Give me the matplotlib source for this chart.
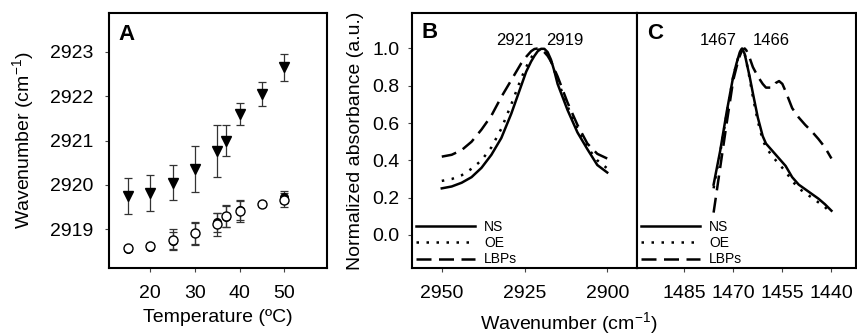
import matplotlib
matplotlib.use("Agg")
import matplotlib.pyplot as plt

plt.rcParams['font.family'] = ['Liberation Sans', 'DejaVu Sans']
plt.rcParams['mathtext.default'] = 'regular'

# Panel A: CH2 stretching position vs temperature
temp = [15, 20, 25, 30, 35, 37, 40, 45, 50]
lbp_a = [2919.74, 2919.81, 2920.05, 2920.36, 2920.77, 2921.00, 2921.60, 2922.05, 2922.65]
lbp_err = [0.41, 0.40, 0.40, 0.52, 0.59, 0.35, 0.24, 0.28, 0.30]
ns_a = [2918.55, 2918.60, 2918.74, 2918.90, 2919.15, 2919.28, 2919.42, 2919.57, 2919.72]
ns_err = [0.05, 0.05, 0.20, 0.24, 0.22, 0.24, 0.22, 0.05, 0.14]
oe_a = [2918.57, 2918.62, 2918.76, 2918.91, 2919.11, 2919.30, 2919.41, 2919.57, 2919.66]
oe_err = [0.05, 0.05, 0.23, 0.26, 0.26, 0.25, 0.24, 0.05, 0.16]

# Panel B: CH2 stretching band
wn_b = [2950, 2947, 2944, 2941, 2938, 2935, 2932, 2929, 2926, 2924.5, 2923, 2922,
        2921, 2920, 2919, 2918, 2917, 2916, 2915, 2912, 2909, 2906, 2903, 2900]
ns_b = [0.25, 0.26, 0.28, 0.31, 0.36, 0.43, 0.52, 0.65, 0.80, 0.875, 0.93, 0.96,
        0.985, 0.998, 0.998, 0.98, 0.94, 0.88, 0.81, 0.67, 0.55, 0.46, 0.375, 0.335]
oe_b = [0.29, 0.30, 0.32, 0.355, 0.40, 0.47, 0.57, 0.70, 0.84, 0.90, 0.95, 0.975,
        0.99, 1.0, 0.99, 0.97, 0.93, 0.88, 0.83, 0.69, 0.57, 0.47, 0.40, 0.357]
lbp_b = [0.42, 0.43, 0.455, 0.50, 0.565, 0.64, 0.74, 0.83, 0.92, 0.955, 0.985, 0.997,
         1.0, 0.995, 0.98, 0.96, 0.93, 0.89, 0.85, 0.71, 0.59, 0.49, 0.435, 0.41]

# Panel C: CH2 scissoring band
wn_c = [1476, 1474, 1472, 1470, 1469, 1468, 1467.3, 1466.5, 1466, 1465, 1464, 1462.5,
        1461, 1460, 1458, 1457, 1456, 1455, 1454, 1452, 1450, 1448, 1446, 1444, 1442, 1440]
ns_c = [0.27, 0.45, 0.66, 0.85, 0.92, 0.98, 1.0, 0.97, 0.93, 0.85, 0.76, 0.63,
        0.53, 0.49, 0.45, 0.43, 0.41, 0.39, 0.37, 0.31, 0.27, 0.245, 0.22, 0.195, 0.165, 0.13]
oe_c = [0.25, 0.44, 0.65, 0.85, 0.92, 0.98, 1.0, 0.97, 0.93, 0.84, 0.74, 0.61,
        0.51, 0.47, 0.42, 0.40, 0.38, 0.36, 0.34, 0.29, 0.25, 0.225, 0.20, 0.175, 0.15, 0.115]
lbp_c = [0.12, 0.36, 0.60, 0.83, 0.90, 0.96, 0.99, 1.0, 0.99, 0.95, 0.90, 0.85,
         0.81, 0.79, 0.79, 0.815, 0.825, 0.81, 0.77, 0.68, 0.63, 0.59, 0.555, 0.515, 0.47, 0.41]

fig = plt.figure(figsize=(8.57, 3.35), dpi=100)
W, H = 857, 335
axA = fig.add_axes([109 / W, 67 / H, 218 / W, 255 / H])
axB = fig.add_axes([412 / W, 67 / H, 225 / W, 255 / H])
axC = fig.add_axes([637 / W, 67 / H, 219 / W, 255 / H], sharey=axB)

for ax in (axA, axB, axC):
    for s in ax.spines.values():
        s.set_linewidth(1.5)
    ax.tick_params(direction='out', length=3, width=0.8, color='#444444', labelsize=14)

# --- A ---
eb = dict(fmt='none', ecolor='#333333', elinewidth=0.9, capsize=3, capthick=0.9)
axA.errorbar(temp, lbp_a, yerr=lbp_err, **eb)
axA.errorbar(temp, ns_a, yerr=ns_err, **eb)
axA.errorbar(temp, oe_a, yerr=oe_err, **eb)
axA.plot(temp, ns_a, 'o', color='black', markersize=5.5, linestyle='none')
axA.plot(temp, oe_a, 'o', markerfacecolor='white', markeredgecolor='black',
         markeredgewidth=1.0, markersize=6.5, linestyle='none')
axA.plot(temp, lbp_a, 'v', color='black', markersize=7, linestyle='none')
axA.set_xlim(10.8, 59.5)
axA.set_ylim(2918.12, 2923.88)
axA.set_xticks([20, 30, 40, 50])
axA.set_yticks([2919, 2920, 2921, 2922, 2923])
axA.yaxis.set_major_formatter(plt.FormatStrFormatter('%d'))
axA.tick_params(axis='x', pad=9)
axA.tick_params(axis='y', pad=8)
axA.set_xlabel('Temperature (ºC)', fontsize=14, labelpad=5)
axA.set_ylabel('Wavenumber (cm$^{-1}$)', fontsize=14, labelpad=10)
axA.text(0.045, 0.955, 'A', transform=axA.transAxes, fontsize=16,
         fontweight='bold', ha='left', va='top')

# --- B ---
axB.plot(wn_b, ns_b, color='black', lw=1.8, label='NS')
axB.plot(wn_b, oe_b, color='black', lw=1.8, linestyle=(0, (1, 3)), label='OE')
axB.plot(wn_b, lbp_b, color='black', lw=1.8, linestyle=(0, (6, 3)), label='LBPs')
axB.set_xlim(2959, 2891)
axB.set_ylim(-0.177, 1.19)
axB.set_xticks([2950, 2925, 2900])
axB.set_yticks([0.0, 0.2, 0.4, 0.6, 0.8, 1.0])
axB.yaxis.set_major_formatter(plt.FormatStrFormatter('%.1f'))
axB.tick_params(axis='x', pad=9)
axB.tick_params(axis='y', pad=6)
axB.set_ylabel('Normalized absorbance (a.u.)', fontsize=14, labelpad=6)
axB.text(2927.9, 1.04, '2921', fontsize=12, ha='center', va='center')
axB.text(2912.9, 1.04, '2919', fontsize=12, ha='center', va='center')
axB.text(0.043, 0.965, 'B', transform=axB.transAxes, fontsize=16,
         fontweight='bold', ha='left', va='top')
axB.legend(loc='lower left', bbox_to_anchor=(0.0, -0.01), frameon=False,
           fontsize=10, handlelength=4.2, labelspacing=0.15, handletextpad=0.7,
           borderpad=0.2, borderaxespad=0.1)

# --- C ---
axC.plot(wn_c, ns_c, color='black', lw=1.8, label='NS')
axC.plot(wn_c, oe_c, color='black', lw=1.8, linestyle=(0, (1, 3)), label='OE')
axC.plot(wn_c, lbp_c, color='black', lw=1.8, linestyle=(0, (6, 3)), label='LBPs')
axC.set_xlim(1499.4, 1432.5)
axC.set_xticks([1485, 1470, 1455, 1440])
axC.tick_params(axis='x', pad=9)
axC.tick_params(axis='y', left=False, labelleft=False)
axC.text(1474.7, 1.045, '1467', fontsize=12, ha='center', va='center')
axC.text(1458.4, 1.045, '1466', fontsize=12, ha='center', va='center')
axC.text(0.044, 0.96, 'C', transform=axC.transAxes, fontsize=16,
         fontweight='bold', ha='left', va='top')
axC.legend(loc='lower left', bbox_to_anchor=(0.0, -0.01), frameon=False,
           fontsize=10, handlelength=4.2, labelspacing=0.15, handletextpad=0.7,
           borderpad=0.2, borderaxespad=0.1)

fig.text(569 / W, 12 / H, 'Wavenumber (cm$^{-1}$)', fontsize=14,
         ha='center', va='center')

fig.savefig('out.png', dpi=100)
